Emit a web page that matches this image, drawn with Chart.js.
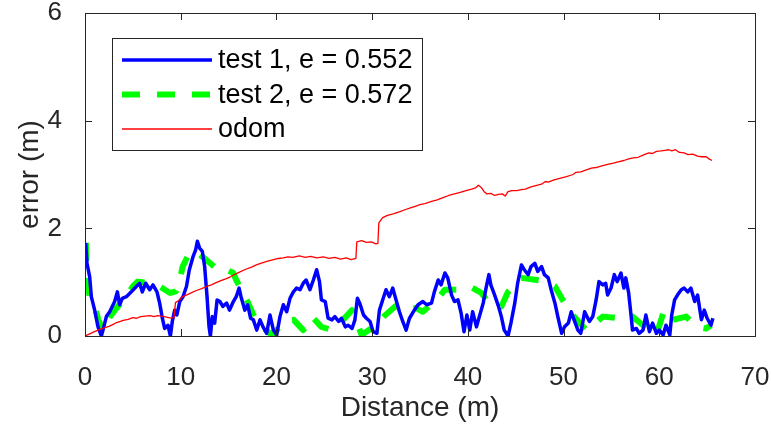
<!DOCTYPE html>
<html lang="en">
<head>
    <meta charset="UTF-8">
    <title>Error vs Distance</title>
    <script src="https://cdn.jsdelivr.net/npm/chart.js"></script>
    <style>
        html, body { margin: 0; padding: 0; background: #fff; }
        canvas { display: block; }
    </style>
</head>
<body>
    <canvas id="errorChart" width="771" height="430"></canvas>

    <script>
        // x axis / y axis ticks
        const xTicks = [0, 10, 20, 30, 40, 50, 60, 70];
        const yTicks = [0, 2, 4, 6];

        const seriesLabels = ['test 1, e = 0.552', 'test 2, e = 0.572', 'odom'];

        // test 1 (blue)
        const test1Dist = [0.07, 0.21, 0.49, 0.66, 1.01, 1.36, 1.71, 1.88, 2.23, 2.58, 3.1, 3.38, 3.62, 3.9, 4.32, 4.84,
            5.36, 5.71, 5.99, 6.34, 6.76, 7.1, 7.52, 7.8, 8.08, 8.32, 8.67, 8.92, 9.12, 9.37, 9.6, 9.9, 10.24, 10.6, 10.9,
            11.3, 11.56, 11.74, 11.98, 12.26, 12.5, 12.75, 12.96, 13.1, 13.3, 13.55, 13.8, 14.1, 14.4, 14.8, 15.1, 15.5,
            15.8, 16.1, 16.3, 16.7, 17.0, 17.3, 17.59, 17.94, 18.29, 18.6, 18.98, 19.33, 19.68, 20.03, 20.37, 20.72,
            21.07, 21.42, 21.77, 22.1, 22.47, 22.8, 23.1, 23.5, 23.86, 24.2, 24.5, 24.7, 25.1, 25.4, 25.8, 26.1, 26.5,
            26.8, 27.2, 27.5, 27.9, 28.2, 28.46, 28.7, 29.1, 29.4, 29.78, 30.1, 30.5, 30.76, 31.1, 31.45, 31.8, 32.15,
            32.5, 32.85, 33.2, 33.55, 33.9, 34.3, 34.8, 35.3, 35.7, 36.2, 36.5, 36.9, 37.2, 37.6, 37.9, 38.3, 38.6,
            38.97, 39.3, 39.6, 39.9, 40.2, 40.5, 40.9, 41.2, 41.6, 41.9, 42.2, 42.4, 42.8, 43.2, 43.5, 43.8, 44.2, 44.5,
            44.9, 45.2, 45.6, 45.9, 46.3, 46.6, 47.0, 47.3, 47.7, 48.0, 48.4, 48.7, 49.1, 49.4, 49.8, 50.1, 50.5, 50.8,
            51.1, 51.5, 51.8, 52.2, 52.7, 53.05, 53.4, 53.7, 54.1, 54.4, 54.6, 54.96, 55.3, 55.6, 56.0, 56.3, 56.5,
            56.8, 57.1, 57.2, 57.6, 57.9, 58.3, 58.6, 58.97, 59.3, 59.7, 60.0, 60.4, 60.7, 61.1, 61.3, 61.6, 61.9, 62.3,
            62.6, 62.97, 63.3, 63.7, 64.0, 64.4, 64.7, 65.0, 65.4, 65.6];
        const test1Err = [1.73, 1.35, 1.10, 0.73, 0.48, 0.17, 0.0, 0.11, 0.36, 0.45, 0.64, 0.82, 0.58, 0.70, 0.73, 0.82,
            0.92, 0.98, 0.82, 0.98, 0.86, 0.95, 0.82, 0.61, 0.33, 0.14, 0.20, 0.0, 0.27, 0.48, 0.39, 0.64, 0.73, 0.92, 1.23,
            1.48, 1.60, 1.76, 1.63, 1.57, 1.29, 0.73, 0.17, 0.0, 0.36, 0.24, 0.67, 0.64, 0.55, 0.61, 0.48, 0.64,
            0.73, 0.89, 0.73, 0.48, 0.58, 0.33, 0.30, 0.11, 0.30, 0.17, 0.05, 0.39, 0.11, 0.02, 0.36, 0.58,
            0.45, 0.70, 0.82, 0.89, 0.86, 0.98, 1.04, 0.86, 1.04, 1.23, 1.01, 0.67, 0.64, 0.33, 0.30, 0.36, 0.27,
            0.33, 0.17, 0.20, 0.14, 0.30, 0.70, 0.61, 0.39, 0.33, 0.27, 0.08, 0.05, 0.48, 0.67, 0.86, 0.73, 0.89,
            0.67, 0.45, 0.27, 0.11, 0.33, 0.45, 0.58, 0.64, 0.58, 0.61, 0.82, 1.04, 0.95, 1.17, 1.08, 0.76, 0.64,
            0.67, 0.42, 0.08, 0.39, 0.11, 0.45, 0.17, 0.36, 0.61, 0.89, 1.14, 0.95, 0.76, 0.55, 0.36, 0.11, 0.0, 0.24,
            0.61, 0.98, 1.32, 1.23, 1.14, 1.29, 1.35, 1.20, 1.29, 1.14, 1.08, 0.86, 0.61, 0.36, 0.05, 0.17, 0.24, 0.45,
            0.30, 0.11, 0.05, 0.45, 0.27, 0.36, 0.67, 1.01, 0.95, 0.98, 0.76, 0.89, 1.14, 1.01, 1.17, 0.89, 1.08,
            0.80, 0.30, 0.11, 0.14, 0.05, 0.11, 0.39, 0.08, 0.24, 0.05, 0.11, 0.02, 0.20, 0.02, 0.39, 0.67, 0.76, 0.86,
            0.89, 0.82, 0.89, 0.64, 0.76, 0.30, 0.48, 0.33, 0.20, 0.33];

        // test 2 (green dashed)
        const test2Dist = [0.1, 0.15, 0.2, 0.5, 1.0, 1.4, 1.9, 2.6, 3.3, 4.0, 5.0, 5.5, 6.8, 7.8, 8.9, 9.5, 9.9, 10.2,
            10.9, 11.6, 12.9, 14.1, 14.8, 15.5, 15.8, 16.9, 17.9, 19.3, 19.8, 20.7, 21.8, 22.8, 23.7, 24.7, 25.8, 26.8,
            27.9, 28.9, 30.4, 31.2, 32.4, 33.6, 34.6, 35.3, 36.9, 37.6, 38.8, 40.2, 41.4, 42.1, 43.5, 44.2, 45.6, 47.2,
            48.2, 49.1, 50.1, 50.8, 51.9, 52.4, 54.1, 55.8, 57.2, 58.3, 59.7, 60.4, 60.7, 61.4, 62.8, 63.9, 64.9, 65.4];
        const test2Err = [1.73, 1.42, 0.98, 0.73, 0.55, 0.30, 0.10, 0.36, 0.52, 0.67, 0.92, 1.01, 0.98, 0.92, 0.80, 0.83,
            1.04, 1.29, 1.54, 1.57, 1.38, 1.20, 1.23, 1.17, 1.04, 0.67, 0.27, 0.05, 0.05, 0.27, 0.30, 0.11, 0.36, 0.17,
            0.11, 0.27, 0.48, 0.02, 0.20, 0.36, 0.55, 0.48, 0.52, 0.45, 0.70, 0.86, 0.86, 0.92, 0.80, 0.64, 0.55, 0.82,
            1.08, 1.04, 1.01, 0.92, 0.61, 0.42, 0.20, 0.11, 0.36, 0.33, 0.36, 0.20, 0.02, 0.42, 0.48, 0.30, 0.36, 0.17,
            0.14, 0.20];

        // odometry (red)
        const odomDist = [0.0, 0.5, 1.0, 1.5, 2.0, 2.5, 3.0, 3.3, 3.7, 4.0, 4.5, 5.0, 5.4, 5.8, 6.3, 6.8, 7.2, 7.6, 8.0,
            8.5, 9.0, 9.3, 9.45, 9.8, 10.2, 10.7, 11.2, 11.7, 12.2, 12.7, 13.2, 13.7, 14.2, 14.7, 15.2, 15.6, 16.2, 16.8,
            17.4, 17.9, 18.5, 19.1, 19.7, 20.2, 20.7, 21.2, 21.7, 22.4, 23.0, 23.6, 24.2, 24.9, 25.5, 26.1, 26.7, 27.3,
            27.8, 28.3, 28.4, 28.9, 29.4, 29.9, 30.4, 30.6, 30.7, 31.1, 31.6, 32.2, 32.9, 33.5, 34.0, 34.5, 35.0, 35.5,
            36.2, 36.8, 37.4, 38.0, 38.6, 39.2, 39.8, 40.4, 40.8, 41.1, 41.4, 41.7, 42.0, 42.4, 42.8, 43.2, 43.6, 43.9,
            44.2, 44.6, 45.1, 45.6, 46.0, 46.6, 47.2, 47.7, 48.1, 48.4, 49.0, 49.6, 50.3, 51.0, 51.3, 51.8, 52.3, 52.9,
            53.4, 54.0, 54.6, 55.2, 55.8, 56.3, 56.8, 57.3, 57.8, 58.3, 58.9, 59.3, 59.7, 60.2, 60.6, 61.0, 61.3, 61.7,
            62.1, 62.6, 63.0, 63.5, 64.0, 64.4, 64.9, 65.2, 65.5];
        const odomErr = [0.00, 0.04, 0.08, 0.12, 0.15, 0.18, 0.22, 0.25, 0.27, 0.29, 0.31, 0.34, 0.33, 0.36, 0.37, 0.38,
            0.36, 0.38, 0.37, 0.35, 0.33, 0.34, 0.62, 0.66, 0.73, 0.77, 0.81, 0.85, 0.88, 0.92, 0.95, 0.99, 1.03, 1.06,
            1.10, 1.14, 1.19, 1.24, 1.28, 1.32, 1.36, 1.39, 1.42, 1.44, 1.45, 1.47, 1.46, 1.49, 1.46, 1.48, 1.45, 1.47,
            1.44, 1.46, 1.43, 1.45, 1.42, 1.44, 1.75, 1.77, 1.74, 1.75, 1.71, 1.72, 2.10, 2.20, 2.24, 2.27, 2.31, 2.35,
            2.38, 2.41, 2.44, 2.46, 2.50, 2.53, 2.57, 2.61, 2.64, 2.67, 2.70, 2.73, 2.75, 2.80, 2.76, 2.68, 2.64, 2.65,
            2.61, 2.63, 2.64, 2.60, 2.68, 2.70, 2.70, 2.72, 2.73, 2.77, 2.80, 2.82, 2.87, 2.86, 2.90, 2.93, 2.96, 3.00,
            3.04, 3.05, 3.08, 3.12, 3.13, 3.16, 3.19, 3.21, 3.24, 3.26, 3.29, 3.31, 3.32, 3.36, 3.40, 3.39, 3.43, 3.44,
            3.45, 3.46, 3.44, 3.46, 3.41, 3.40, 3.37, 3.38, 3.34, 3.33, 3.33, 3.29, 3.26];

        const toPoints = (xs, ys) => xs.map((x, i) => ({ x: x, y: ys[i] }));

        const axisColor = '#262626';
        const fontFamily = '"Liberation Sans", Arial, Helvetica, sans-serif';

        // MATLAB style box with inward ticks on all four sides
        const boxPlugin = {
            id: 'boxPlugin',
            afterDraw(chart) {
                const { ctx, chartArea: a, scales } = chart;
                const len = 7;
                ctx.save();
                ctx.strokeStyle = axisColor;
                ctx.lineWidth = 1;
                ctx.strokeRect(a.left + 0.5, a.top + 0.5, a.right - a.left, a.bottom - a.top);
                ctx.beginPath();
                xTicks.forEach(v => {
                    const px = Math.round(scales.x.getPixelForValue(v)) + 0.5;
                    ctx.moveTo(px, a.bottom); ctx.lineTo(px, a.bottom - len);
                    ctx.moveTo(px, a.top); ctx.lineTo(px, a.top + len);
                });
                yTicks.forEach(v => {
                    const py = Math.round(scales.y.getPixelForValue(v)) + 0.5;
                    ctx.moveTo(a.left, py); ctx.lineTo(a.left + len, py);
                    ctx.moveTo(a.right, py); ctx.lineTo(a.right - len, py);
                });
                ctx.stroke();
                ctx.restore();
            }
        };

        // legend box in the upper left, like the original figure
        const legendBox = {
            id: 'legendBox',
            afterDraw(chart) {
                const ctx = chart.ctx;
                const x0 = 112, y0 = 38, w = 310, h = 112;
                ctx.save();
                ctx.fillStyle = '#fff';
                ctx.fillRect(x0, y0, w, h);
                ctx.strokeStyle = axisColor;
                ctx.lineWidth = 1;
                ctx.strokeRect(x0 + 0.5, y0 + 0.5, w, h);
                chart.data.datasets.forEach((ds, i) => {
                    const y = 60 + i * 34.5;
                    ctx.beginPath();
                    ctx.strokeStyle = ds.borderColor;
                    ctx.lineWidth = ds.borderWidth;
                    ctx.setLineDash(ds.borderDash || []);
                    ctx.moveTo(122, y);
                    ctx.lineTo(212, y);
                    ctx.stroke();
                    ctx.setLineDash([]);
                    ctx.fillStyle = '#000';
                    ctx.font = '27px ' + fontFamily;
                    ctx.textBaseline = 'middle';
                    ctx.textAlign = 'left';
                    ctx.fillText(ds.label, 218, y + 1);
                });
                ctx.restore();
            }
        };

        const chart = new Chart(document.getElementById('errorChart'), {
            type: 'line',
            data: {
                datasets: [{
                    label: seriesLabels[0],
                    data: toPoints(test1Dist, test1Err),
                    borderColor: '#0000FF',
                    borderWidth: 3.5,
                    order: 1
                }, {
                    label: seriesLabels[1],
                    data: toPoints(test2Dist, test2Err),
                    borderColor: '#00FF00',
                    borderWidth: 6,
                    borderDash: [18, 17],
                    order: 2
                }, {
                    label: seriesLabels[2],
                    data: toPoints(odomDist, odomErr),
                    borderColor: '#FF0000',
                    borderWidth: 1.3,
                    order: 0
                }]
            },
            options: {
                responsive: false,
                animation: false,
                devicePixelRatio: 1,
                parsing: false,
                elements: {
                    point: { radius: 0 },
                    line: { tension: 0, borderJoinStyle: 'round' }
                },
                layout: { padding: { left: 0, top: 13, right: 16, bottom: 0 } },
                plugins: {
                    legend: { display: false },
                    tooltip: { enabled: false }
                },
                scales: {
                    x: {
                        type: 'linear',
                        min: 0,
                        max: 70,
                        afterFit: s => { s.height = 94; s.paddingLeft = 0; s.paddingRight = 0; },
                        afterBuildTicks: s => { s.ticks = xTicks.map(v => ({ value: v })); },
                        grid: { display: false },
                        border: { display: false },
                        ticks: {
                            color: axisColor,
                            padding: 18,
                            maxRotation: 0,
                            font: { family: fontFamily, size: 26 }
                        },
                        title: {
                            display: true,
                            text: 'Distance (m)',
                            color: axisColor,
                            padding: { top: 0, bottom: 5 },
                            font: { family: fontFamily, size: 28 }
                        }
                    },
                    y: {
                        type: 'linear',
                        min: 0,
                        max: 6,
                        afterFit: s => { s.width = 85; s.paddingTop = 0; s.paddingBottom = 0; },
                        afterBuildTicks: s => { s.ticks = yTicks.map(v => ({ value: v })); },
                        grid: { display: false },
                        border: { display: false },
                        ticks: {
                            color: axisColor,
                            padding: 15,
                            font: { family: fontFamily, size: 26 }
                        },
                        title: {
                            display: true,
                            text: 'error (m)',
                            color: axisColor,
                            padding: { top: 13, bottom: 0 },
                            font: { family: fontFamily, size: 28 }
                        }
                    }
                }
            },
            plugins: [boxPlugin, legendBox]
        });
    </script>
</body>
</html>
